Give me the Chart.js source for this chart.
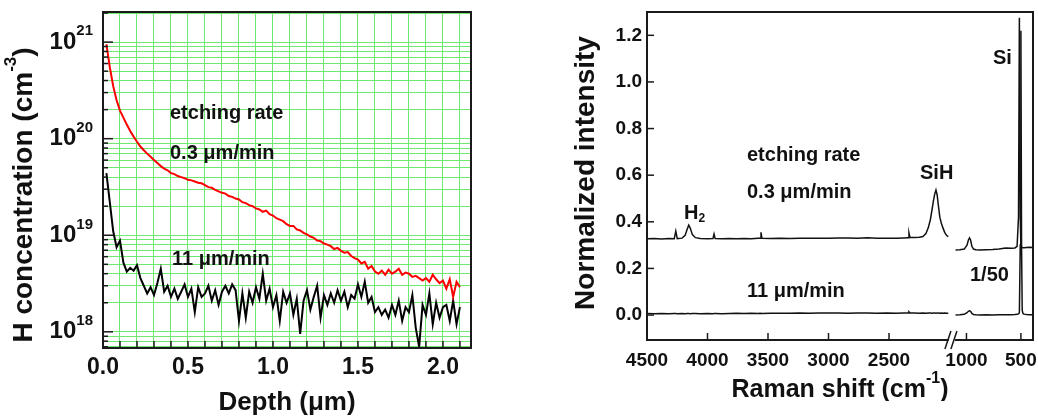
<!DOCTYPE html>
<html>
<head>
<meta charset="utf-8">
<script src="https://cdn.jsdelivr.net/npm/chart.js@4.4.1/dist/chart.umd.min.js"></script>
<style>
  html, body { margin: 0; padding: 0; background: #fff; }
  #wrap { position: relative; width: 1038px; height: 417px; overflow: hidden; }
  #left { position: absolute; left: 0; top: 0; }
  #right { position: absolute; left: 540px; top: 0; }
</style>
</head>
<body>
<div id="wrap">
  <canvas id="left" width="490" height="417"></canvas>
  <canvas id="right" width="498" height="401"></canvas>
</div>
<script>
// --- left panel: SIMS depth profiles (H concentration, in units of 1e18 cm^-3) ---
const depthUm = [
  0.02, 0.04, 0.06, 0.08, 0.10, 0.12, 0.14, 0.16, 0.18, 0.20,
  0.22, 0.24, 0.26, 0.28, 0.30, 0.32, 0.34, 0.36, 0.38, 0.40,
  0.42, 0.44, 0.46, 0.48, 0.50, 0.52, 0.54, 0.56, 0.58, 0.60,
  0.62, 0.64, 0.66, 0.68, 0.70, 0.72, 0.74, 0.76, 0.78, 0.80,
  0.82, 0.84, 0.86, 0.88, 0.90, 0.92, 0.94, 0.96, 0.98, 1.00,
  1.02, 1.04, 1.06, 1.08, 1.10, 1.12, 1.14, 1.16, 1.18, 1.20,
  1.22, 1.24, 1.26, 1.28, 1.30, 1.32, 1.34, 1.36, 1.38, 1.40,
  1.42, 1.44, 1.46, 1.48, 1.50, 1.52, 1.54, 1.56, 1.58, 1.60,
  1.62, 1.64, 1.66, 1.68, 1.70, 1.72, 1.74, 1.76, 1.78, 1.80,
  1.82, 1.84, 1.86, 1.88, 1.90, 1.92, 1.94, 1.96, 1.98, 2.00,
  2.02, 2.04, 2.06, 2.08, 2.10
];
// 0.3 um/min (red)
const hSlow = [
  950, 550, 350, 250, 195, 165, 140, 120, 105, 93,
  83, 76, 70, 65, 60, 56, 52, 49, 47, 44,
  43, 41, 40, 39, 37.5, 37, 36, 35, 34.5, 33,
  31.5, 31, 29.5, 28.5, 27.5, 27, 25.5, 25, 24, 23.5,
  22, 21.5, 20.5, 20, 19, 18.5, 17.5, 18, 16.5, 16,
  15, 14.5, 14, 13, 12.5, 12.5, 11.5, 11.2, 10.6, 10.2,
  9.7, 9.4, 8.8, 8.7, 8.2, 8.0, 7.7, 7.2, 7.4, 6.9,
  6.6, 6.7, 6.1, 5.8, 5.6, 5.1, 5.3, 4.5, 4.8, 4.2,
  4.0, 4.3, 3.9, 4.4, 4.0, 4.2, 4.5, 3.9, 4.1, 4.0,
  3.7, 3.8, 3.6, 3.4, 3.6, 3.3, 3.9, 3.5, 3.2, 3.4,
  2.8, 3.5, 2.3, 3.3, 2.9
];
// 11 um/min (black)
const hFast = [
  44, 22, 11, 7.5, 8.8, 5.2, 4.2, 4.6, 4.3, 4.9,
  3.6, 3.0, 2.5, 2.9, 2.4, 3.2, 4.5, 2.6, 3.0, 2.3,
  2.8, 2.2, 2.6, 3.1, 2.3, 2.8, 1.6, 2.9, 2.3, 2.5,
  3.0, 2.1, 2.7, 1.9, 2.6, 3.0, 2.5, 3.1, 2.7, 1.3,
  2.5, 1.4, 2.6, 2.0, 2.9, 2.2, 4.0, 2.1, 2.8, 1.8,
  2.4, 1.3, 2.6, 2.0, 2.5, 1.5, 2.2, 0.95, 2.1, 2.7,
  1.7, 2.3, 3.0, 1.4, 2.4, 1.9, 2.5, 2.0, 2.7, 2.1,
  2.6, 1.8, 2.4, 2.2, 3.1, 2.3, 3.3, 2.0, 2.3, 1.6,
  1.8, 1.5, 1.7, 1.4, 1.9, 1.5, 2.1, 1.3, 1.8, 1.6,
  2.4, 1.1, 0.7, 1.9, 1.5, 2.5, 1.2, 2.0, 1.4, 1.8,
  1.9, 1.3, 2.1, 1.2, 1.8
];
const depthTicks = [0, 0.1, 0.2, 0.3, 0.4, 0.5, 0.6, 0.7, 0.8, 0.9, 1.0,
  1.1, 1.2, 1.3, 1.4, 1.5, 1.6, 1.7, 1.8, 1.9, 2.0, 2.1];
const logMantissas = [1, 2, 3, 4, 5, 6, 7, 8, 9];
const logDecades = [17, 18, 19, 20, 21];

// --- right panel: Raman spectra (split axis 4500-2010 | 1100-390 cm^-1) ---
const shiftHigh = [
  4500, 4440, 4380, 4320, 4275, 4262, 4250, 4210, 4185, 4168,
  4155, 4142, 4125, 4100, 4060, 4000, 3955, 3946, 3937, 3880,
  3820, 3760, 3700, 3640, 3580, 3566, 3558, 3550, 3480, 3400,
  3320, 3240, 3160, 3080, 3000, 2920, 2840, 2760, 2680, 2600,
  2520, 2440, 2380, 2343, 2335, 2327, 2290, 2250, 2220, 2195,
  2175, 2158, 2145, 2133, 2122, 2112, 2102, 2092, 2080, 2068,
  2055, 2040, 2025, 2010
];
const ramanSlowHigh = [
  0.327, 0.328, 0.326, 0.328, 0.327, 0.360, 0.328, 0.330, 0.342, 0.368,
  0.386, 0.372, 0.345, 0.332, 0.328, 0.327, 0.328, 0.348, 0.328, 0.327,
  0.328, 0.327, 0.328, 0.327, 0.329, 0.329, 0.355, 0.329, 0.328, 0.329,
  0.328, 0.329, 0.329, 0.330, 0.330, 0.331, 0.331, 0.330, 0.332, 0.329,
  0.330, 0.329, 0.331, 0.332, 0.352, 0.333, 0.333, 0.334, 0.337, 0.350,
  0.375, 0.410, 0.450, 0.490, 0.520, 0.536, 0.515, 0.470, 0.420, 0.395,
  0.375, 0.355, 0.342, 0.336
];
const ramanFastHigh = [
  0.007, 0.006, 0.007, 0.006, 0.007, 0.007, 0.006, 0.007, 0.006, 0.007,
  0.007, 0.006, 0.007, 0.007, 0.006, 0.007, 0.006, 0.007, 0.007, 0.006,
  0.007, 0.008, 0.007, 0.008, 0.007, 0.008, 0.008, 0.007, 0.008, 0.008,
  0.008, 0.009, 0.008, 0.009, 0.009, 0.009, 0.008, 0.009, 0.009, 0.008,
  0.009, 0.008, 0.009, 0.009, 0.014, 0.009, 0.009, 0.008, 0.009, 0.008,
  0.009, 0.009, 0.008, 0.009, 0.009, 0.008, 0.009, 0.009, 0.008, 0.009,
  0.008, 0.009, 0.008, 0.008
];
const shiftLow = [
  1100, 1060, 1020, 995, 982, 972, 962, 950, 935, 915,
  880, 820, 760, 700, 640, 590, 555, 535, 522, 514,
  506, 500, 494, 488, 480, 470, 450, 420, 390
];
const ramanSlowLow = [
  0.279, 0.280, 0.283, 0.300, 0.322, 0.331, 0.322, 0.295, 0.283, 0.280,
  0.279, 0.280, 0.281, 0.283, 0.288, 0.287, 0.288, 0.295, 0.420, 1.275,
  0.420, 0.300, 0.292, 0.290, 0.289, 0.289, 0.290, 0.291, 0.290
];
const ramanFastLow = [
  0.000, 0.001, 0.003, 0.010, 0.016, 0.018, 0.016, 0.007, 0.002, 0.001,
  0.000, 0.001, 0.000, 0.001, 0.001, 0.001, 0.002, 0.003, 0.005, 0.010,
  0.300, 1.220, 0.300, 0.020, 0.006, 0.004, 0.002, 0.001, 0.001
];
const ramanTicks = [4500, 4000, 3500, 3000, 2500, 1000, 500];
const intensityTicks = [0, 0.2, 0.4, 0.6, 0.8, 1.0, 1.2];

// axis break: high range runs 1:1, the low range is squeezed a little
const BREAK_SHIFT = 1500;
const AXIS_AT_1000 = 2640;
const LOW_RATIO = 0.9;
const AXIS_MAX = 3190;
const toAxis = s => s >= BREAK_SHIFT ? 4500 - s : AXIS_AT_1000 + (1000 - s) * LOW_RATIO;

const FONT = '"Liberation Sans", Arial, Helvetica, sans-serif';
Chart.defaults.font.family = FONT;
Chart.defaults.color = '#111';

// text with super/subscripts: parts = [[text, 'sup'|'sub'|undefined], ...]
function richText(ctx, parts, x, y, size, align) {
  let total = 0;
  const items = parts.map(([t, kind]) => {
    const s = kind ? Math.round(size * 0.62) : size;
    ctx.font = `bold ${s}px ${FONT}`;
    const w = ctx.measureText(t).width;
    total += w;
    return { t, kind, s, w };
  });
  let cx = align === 'center' ? x - total / 2 : (align === 'right' ? x - total : x);
  ctx.textAlign = 'left';
  ctx.textBaseline = 'middle';
  ctx.fillStyle = '#111';
  items.forEach(p => {
    ctx.font = `bold ${p.s}px ${FONT}`;
    const dy = p.kind === 'sup' ? -size * 0.45 : (p.kind === 'sub' ? size * 0.3 : 0);
    ctx.fillText(p.t, cx, y + dy);
    cx += p.w;
  });
}

function rotatedText(ctx, parts, x, y, size) {
  ctx.save();
  ctx.translate(x, y);
  ctx.rotate(-Math.PI / 2);
  richText(ctx, parts, 0, 0, size, 'center');
  ctx.restore();
}

function tickLine(ctx, x1, y1, x2, y2) {
  ctx.beginPath();
  ctx.moveTo(x1, y1);
  ctx.lineTo(x2, y2);
  ctx.stroke();
}

// fixed plot box: drop the extra room Chart.js keeps for edge labels
function fixBox(size) {
  return s => {
    if (s.isHorizontal()) s.height = size; else s.width = size;
    s.paddingLeft = s.paddingRight = s.paddingTop = s.paddingBottom = 0;
  };
}

// --- plugin: frame, inward ticks, titles and notes for the SIMS panel ---
const simsDecor = {
  id: 'simsDecor',
  afterDraw(chart) {
    const { ctx, chartArea: a, scales: { x, y } } = chart;
    ctx.save();
    ctx.strokeStyle = '#1a1a1a';
    ctx.lineWidth = 1.5;
    y.ticks.forEach(t => {
      const py = y.getPixelForValue(t.value);
      const decade = Math.abs(Math.log10(t.value) - Math.round(Math.log10(t.value))) < 1e-9;
      tickLine(ctx, a.left, py, a.left + (decade ? 10 : 5), py);
      if (decade) {
        richText(ctx, [['10'], [String(Math.round(Math.log10(t.value))), 'sup']], a.left - 10, py, 24, 'right');
      }
    });
    x.ticks.forEach(t => {
      const px = x.getPixelForValue(t.value);
      tickLine(ctx, px, a.bottom, px, a.bottom - 7);
    });
    ctx.lineWidth = 2;
    ctx.strokeRect(a.left, a.top, a.right - a.left, a.bottom - a.top);

    rotatedText(ctx, [['H concentration (cm'], ['-3', 'sup'], [')']], 24, 195, 28);
    richText(ctx, [['Depth (μm)']], 287, 403, 26, 'center');
    richText(ctx, [['etching rate']], 170, 113, 20, 'left');
    richText(ctx, [['0.3 μm/min']], 170, 153, 20, 'left');
    richText(ctx, [['11 μm/min']], 172, 259, 20, 'left');
    ctx.restore();
  }
};

// --- plugin: frame, ticks, axis break and notes for the Raman panel ---
const ramanDecor = {
  id: 'ramanDecor',
  afterDraw(chart) {
    const { ctx, chartArea: a, scales: { x, y } } = chart;
    ctx.save();
    ctx.strokeStyle = '#1a1a1a';
    ctx.lineWidth = 1.5;
    y.ticks.forEach(t => {
      const py = y.getPixelForValue(t.value);
      tickLine(ctx, a.left, py, a.left + 7, py);
    });
    x.ticks.forEach(t => {
      const px = x.getPixelForValue(t.value);
      tickLine(ctx, px, a.bottom, px, a.bottom - 7);
    });
    ctx.lineWidth = 2;
    ctx.strokeRect(a.left, a.top, a.right - a.left, a.bottom - a.top);

    // break mark "//" on the bottom axis
    const bx = x.getPixelForValue((toAxis(2010) + toAxis(1100)) / 2);
    const by = a.bottom;
    ctx.fillStyle = '#fff';
    ctx.beginPath();
    ctx.moveTo(bx - 6, by + 9); ctx.lineTo(bx, by + 9);
    ctx.lineTo(bx + 6, by - 9); ctx.lineTo(bx, by - 9);
    ctx.closePath();
    ctx.fill();
    ctx.lineWidth = 1.5;
    tickLine(ctx, bx - 7, by + 9, bx - 1, by - 9);
    tickLine(ctx, bx - 1, by + 9, bx + 5, by - 9);

    rotatedText(ctx, [['Normalized intensity']], 46, 173, 28);
    richText(ctx, [['Raman shift (cm'], ['-1', 'sup'], [')']], 300, 390, 25, 'center');
    richText(ctx, [['etching rate']], 207, 155, 20, 'left');
    richText(ctx, [['0.3 μm/min']], 207, 192, 20, 'left');
    richText(ctx, [['11 μm/min']], 207, 291, 20, 'left');
    richText(ctx, [['H'], ['2', 'sub']], 144, 213, 20, 'left');
    richText(ctx, [['SiH']], 380, 173, 20, 'left');
    richText(ctx, [['Si']], 453, 58, 20, 'left');
    richText(ctx, [['1/50']], 430, 275, 20, 'left');
    ctx.restore();
  }
};

const logTickValues = [];
logDecades.forEach(e => logMantissas.forEach(m => logTickValues.push(m * Math.pow(10, e))));

// --- chart 1: SIMS ---
new Chart(document.getElementById('left'), {
  type: 'line',
  data: {
    datasets: [
      {
        label: '0.3 μm/min',
        data: depthUm.map((d, i) => ({ x: d, y: hSlow[i] * 1e18 })),
        borderColor: '#ff0000',
        borderWidth: 2,
        pointRadius: 0,
        tension: 0
      },
      {
        label: '11 μm/min',
        data: depthUm.map((d, i) => ({ x: d, y: hFast[i] * 1e18 })),
        borderColor: '#000',
        borderWidth: 2,
        pointRadius: 0,
        tension: 0
      }
    ]
  },
  options: {
    responsive: false,
    animation: false,
    devicePixelRatio: 1,
    layout: { autoPadding: false, padding: { top: 12, right: 19, left: 0, bottom: 0 } },
    plugins: { legend: { display: false }, tooltip: { enabled: false } },
    scales: {
      x: {
        type: 'linear',
        min: 0,
        max: 2.165,
        afterBuildTicks: s => { s.ticks = depthTicks.map(v => ({ value: v })); },
        afterFit: fixBox(69),
        ticks: {
          autoSkip: false,
          maxRotation: 0,
          padding: 6,
          font: { size: 23, weight: 'bold' },
          callback: v => Math.abs(v * 2 - Math.round(v * 2)) < 1e-6 ? v.toFixed(1) : ''
        },
        grid: { color: '#6ee86e', lineWidth: 1, drawTicks: false },
        border: { display: false }
      },
      y: {
        type: 'logarithmic',
        min: 6.8e17,
        max: 2.05e21,
        afterBuildTicks: s => { s.ticks = logTickValues.filter(v => v >= s.min && v <= s.max).map(v => ({ value: v })); },
        afterFit: fixBox(103),
        ticks: { display: false },
        grid: { color: '#6ee86e', lineWidth: 1, drawTicks: false },
        border: { display: false }
      }
    }
  },
  plugins: [simsDecor]
});

// --- chart 2: Raman ---
const spectrum = (shifts, vals) => shifts.map((s, i) => ({ x: toAxis(s), y: vals[i] }));
const lineStyle = { borderColor: '#111', borderWidth: 1.5, pointRadius: 0, tension: 0 };

new Chart(document.getElementById('right'), {
  type: 'line',
  data: {
    datasets: [
      { label: '0.3 μm/min', data: spectrum(shiftHigh, ramanSlowHigh), ...lineStyle },
      { label: '0.3 μm/min low', data: spectrum(shiftLow, ramanSlowLow), ...lineStyle },
      { label: '11 μm/min', data: spectrum(shiftHigh, ramanFastHigh), ...lineStyle },
      { label: '11 μm/min low', data: spectrum(shiftLow, ramanFastLow), ...lineStyle }
    ]
  },
  options: {
    responsive: false,
    animation: false,
    devicePixelRatio: 1,
    layout: { autoPadding: false, padding: { top: 12, right: 5, left: 0, bottom: 0 } },
    plugins: { legend: { display: false }, tooltip: { enabled: false } },
    scales: {
      x: {
        type: 'linear',
        min: 0,
        max: AXIS_MAX,
        afterBuildTicks: s => { s.ticks = ramanTicks.map(t => ({ value: toAxis(t) })); },
        afterFit: fixBox(61),
        ticks: {
          autoSkip: false,
          maxRotation: 0,
          padding: 9,
          font: { size: 19, weight: 'bold' },
          callback: (v, i) => String(ramanTicks[i])
        },
        grid: { display: false, drawTicks: false },
        border: { display: false }
      },
      y: {
        min: -0.107,
        max: 1.30,
        afterBuildTicks: s => { s.ticks = intensityTicks.map(v => ({ value: v })); },
        afterFit: fixBox(107),
        ticks: {
          padding: 5,
          font: { size: 19, weight: 'bold' },
          callback: v => v.toFixed(1)
        },
        grid: { display: false, drawTicks: false },
        border: { display: false }
      }
    }
  },
  plugins: [ramanDecor]
});
</script>
</body>
</html>
